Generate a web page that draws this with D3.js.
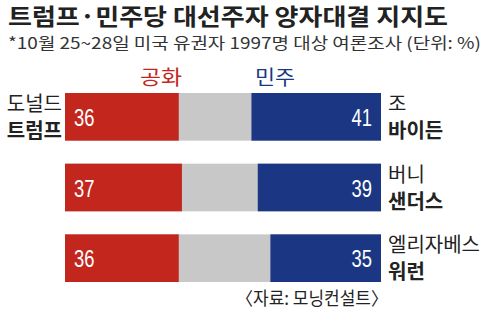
<!DOCTYPE html>
<html><head><meta charset="utf-8">
<script src="https://cdn.jsdelivr.net/npm/d3@7"></script>
<style>body{margin:0;background:#fff}svg{display:block}</style>
</head><body><svg id="c" width="487" height="311"></svg>
<script>
const title = "트럼프·민주당 대선주자 양자대결 지지도";
const subtitle = "*10월 25~28일 미국 유권자 1997명 대상 여론조사 (단위: %)";
const source = "〈자료: 모닝컨설트〉";
const legendLabels = ["공화", "민주"];
const repFirst = ["도널드"];
const repLast = ["트럼프"];
const demFirst = ["조", "버니", "엘리자베스"];
const demLast = ["바이든", "샌더스", "워런"];
const repValues = [36, 37, 36];
const demValues = [41, 39, 35];

const RED = "#c3261d", BLUE = "#1b3784", GRAY = "#c8c8c8";
const KFONT = "'Noto Sans CJK KR', 'Noto Sans', sans-serif";
const NFONT = "'Liberation Sans Narrow', 'Liberation Sans', Arial, sans-serif";

const svg = d3.select("#c");
const x = d3.scaleLinear().domain([0, 100]).range([65, 381]);
const y = d3.scaleBand().domain(d3.range(demValues.length)).range([93, 282]).paddingInner(0.326).paddingOuter(0);

svg.append("text").attr("x", 8).attr("y", 25).attr("font-family", KFONT).attr("font-weight", 700)
  .attr("font-size", 23).attr("fill", "#222").attr("textLength", 440).attr("lengthAdjust", "spacingAndGlyphs").text(title);
svg.append("text").attr("x", 8).attr("y", 49).attr("font-family", KFONT)
  .attr("font-size", 16).attr("fill", "#333").attr("textLength", 473).attr("lengthAdjust", "spacingAndGlyphs").text(subtitle);

// legend
svg.append("text").attr("x", 140).attr("y", 85).attr("font-family", KFONT).attr("font-size", 20)
  .attr("fill", RED).attr("textLength", 42).attr("lengthAdjust", "spacingAndGlyphs").text(legendLabels[0]);
svg.append("text").attr("x", 255).attr("y", 85).attr("font-family", KFONT).attr("font-size", 20)
  .attr("fill", BLUE).attr("textLength", 40).attr("lengthAdjust", "spacingAndGlyphs").text(legendLabels[1]);

const rows = svg.selectAll("g.row").data(d3.range(demValues.length)).join("g").attr("class", "row");

rows.append("rect").attr("x", x(0)).attr("width", x(100) - x(0))
  .attr("y", i => y(i)).attr("height", y.bandwidth()).attr("fill", GRAY);
rows.append("rect").attr("x", x(0)).attr("width", i => x(repValues[i]) - x(0))
  .attr("y", i => y(i)).attr("height", y.bandwidth()).attr("fill", RED);
rows.append("rect").attr("x", i => x(100 - demValues[i])).attr("width", i => x(100) - x(100 - demValues[i]))
  .attr("y", i => y(i)).attr("height", y.bandwidth()).attr("fill", BLUE);

// value labels
rows.append("text").attr("transform", i => `translate(74,${y(i) + y.bandwidth()/2 + 9}) scale(0.8,1)`)
  .attr("font-family", NFONT).attr("font-size", 23).attr("fill", "#fff").text(i => repValues[i]);
rows.append("text").attr("transform", i => `translate(372,${y(i) + y.bandwidth()/2 + 9}) scale(0.8,1)`)
  .attr("text-anchor", "end").attr("font-family", NFONT).attr("font-size", 23).attr("fill", "#fff").text(i => demValues[i]);

// right labels
rows.append("text").attr("x", 388).attr("y", i => y(i) + y.bandwidth()/2 - 6)
  .attr("font-family", KFONT).attr("font-size", 20).attr("fill", "#222").text(i => demFirst[i]);
rows.append("text").attr("x", 388).attr("y", i => y(i) + y.bandwidth()/2 + 21)
  .attr("font-family", KFONT).attr("font-weight", 700).attr("font-size", 20).attr("fill", "#222").text(i => demLast[i]);

// left labels (first row only)
svg.selectAll("text.rf").data(repFirst).join("text").attr("class", "rf")
  .attr("x", 62).attr("y", y(0) + y.bandwidth()/2 - 6).attr("text-anchor", "end")
  .attr("font-family", KFONT).attr("font-size", 20).attr("fill", "#222").text(d => d);
svg.selectAll("text.rl").data(repLast).join("text").attr("class", "rl")
  .attr("x", 62).attr("y", y(0) + y.bandwidth()/2 + 21).attr("text-anchor", "end")
  .attr("font-family", KFONT).attr("font-weight", 700).attr("font-size", 20).attr("fill", "#222").text(d => d);

svg.append("text").attr("x", 236).attr("y", 305).attr("font-family", KFONT).attr("font-size", 18)
  .attr("fill", "#222").attr("textLength", 152).attr("lengthAdjust", "spacingAndGlyphs").text(source);
</script></body></html>
